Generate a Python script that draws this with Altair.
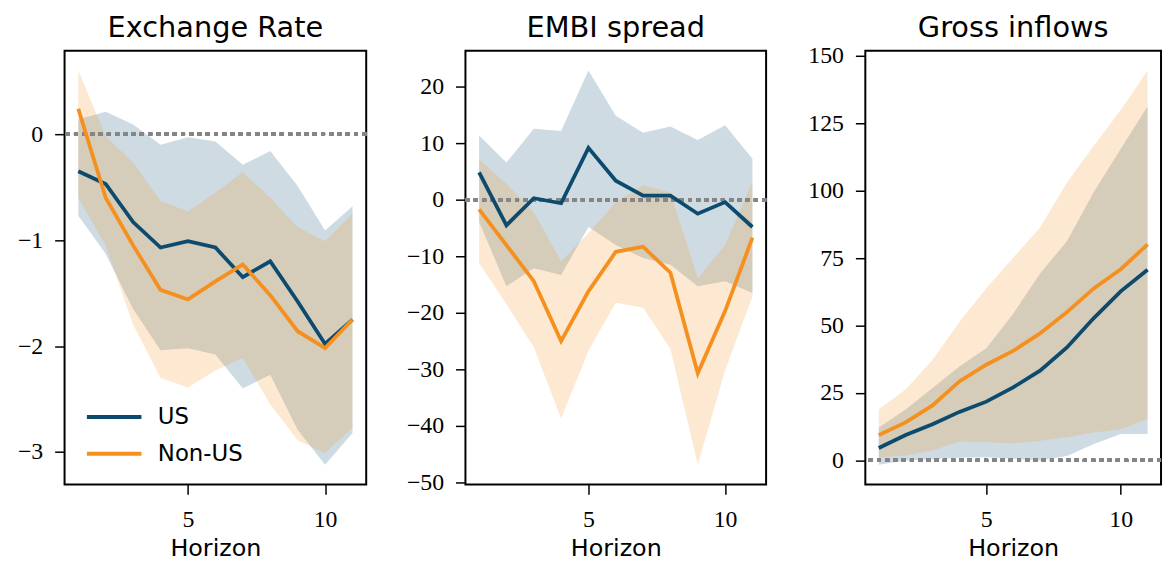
import altair as alt
import pandas as pd

horizon = list(range(1, 12))
series = ["US", "Non-US"]
titles = ["Exchange Rate", "EMBI spread", "Gross inflows"]

# Exchange Rate
er_us = [-0.35, -0.47, -0.83, -1.07, -1.01, -1.07, -1.35, -1.20, -1.58, -1.98, -1.75]
er_us_hi = [0.14, 0.21, 0.09, -0.10, -0.03, -0.07, -0.29, -0.16, -0.49, -0.91, -0.68]
er_us_lo = [-0.77, -1.13, -1.65, -2.04, -2.02, -2.08, -2.40, -2.27, -2.79, -3.12, -2.82]
er_nus = [0.24, -0.60, -1.05, -1.47, -1.56, -1.39, -1.23, -1.52, -1.86, -2.02, -1.75]
er_nus_hi = [0.60, -0.02, -0.27, -0.63, -0.73, -0.55, -0.36, -0.60, -0.88, -1.01, -0.75]
er_nus_lo = [-0.60, -1.05, -1.80, -2.30, -2.39, -2.23, -2.11, -2.55, -2.89, -3.01, -2.77]

# EMBI spread
embi_us = [4.85, -4.5, 0.3, -0.6, 9.2, 3.4, 0.76, 0.76, -2.45, -0.4, -4.8]
embi_us_hi = [11.4, 6.6, 12.6, 12.2, 22.9, 14.9, 11.9, 13.0, 10.6, 13.2, 7.3]
embi_us_lo = [-3.9, -15.3, -12.1, -13.3, -4.8, -8.0, -10.3, -11.5, -15.3, -14.4, -16.5]
embi_nus = [-1.7, -8.0, -14.4, -25.0, -16.2, -9.2, -8.3, -12.9, -30.7, -19.7, -6.7]
embi_nus_hi = [7.2, 2.8, -2.2, -10.9, -5.9, -0.4, 2.6, 1.3, -13.9, -8.0, 3.2]
embi_nus_lo = [-11.2, -18.5, -26.1, -38.7, -26.7, -18.2, -19.1, -26.4, -46.9, -30.2, -17.1]

# Gross inflows
gi_us = [4.6, 9.4, 13.4, 18.0, 21.8, 27.1, 33.3, 41.9, 52.8, 62.7, 70.7]
gi_us_hi = [12.2, 18.9, 26.9, 34.8, 41.6, 54.4, 69.3, 81.3, 99.6, 115.5, 131.4]
gi_us_lo = [-1.6, 0.0, 0.4, 1.0, 1.2, 0.6, 0.0, 1.6, 6.1, 9.8, 9.8]
gi_nus = [9.4, 14.1, 20.4, 29.3, 35.5, 40.6, 47.1, 55.0, 63.8, 70.9, 80.1]
gi_nus_hi = [19.0, 26.3, 37.3, 51.3, 63.9, 75.2, 86.4, 103.1, 116.7, 130.0, 144.6]
gi_nus_lo = [1.2, 1.8, 3.7, 7.0, 6.7, 6.4, 7.3, 8.6, 10.4, 11.6, 15.5]

y_ticks_er = [-3, -2, -1, 0]
y_ticks_embi = [-50, -40, -30, -20, -10, 0, 10, 20]
y_ticks_gi = [0, 25, 50, 75, 100, 125, 150]
x_ticks = [5, 10]

BLUE = "#0c4a6e"
ORANGE = "#f5901e"
PLOT_H = 437


def build_df(us, us_lo, us_hi, nus, nus_lo, nus_hi):
    rows = []
    for s, est, lo, hi in [("US", us, us_lo, us_hi), ("Non-US", nus, nus_lo, nus_hi)]:
        for h, e, l, u in zip(horizon, est, lo, hi):
            rows.append({"h": h, "series": s, "est": e, "lo": l, "hi": u})
    return pd.DataFrame(rows)


def ydomain(df):
    lo = min(df["lo"].min(), df["est"].min())
    hi = max(df["hi"].max(), df["est"].max())
    m = 0.05 * (hi - lo)
    return [lo - m, hi + m]


def make_panel(title, df, ticks, extent, width, legend, toff):
    dom = ydomain(df)
    xenc = alt.X("h:Q", scale=alt.Scale(domain=[0.5, 11.5], nice=False, zero=False),
                 axis=alt.Axis(values=x_ticks, title="Horizon", format="d"))
    yaxis = alt.Axis(values=ticks, title=None, minExtent=extent, maxExtent=extent,
                     format="d", labelExpr="replace(datum.label, '-', '\u2212')")
    yscale = alt.Scale(domain=dom, nice=False, zero=False)

    base = alt.Chart(df)
    band_us = base.transform_filter(alt.datum.series == "US").mark_area(
        color=BLUE, opacity=0.2).encode(
        x=xenc, y=alt.Y("lo:Q", scale=yscale, axis=yaxis), y2="hi:Q")
    band_nus = base.transform_filter(alt.datum.series == "Non-US").mark_area(
        color=ORANGE, opacity=0.2).encode(
        x=xenc, y=alt.Y("lo:Q", scale=yscale, axis=yaxis), y2="hi:Q")
    zero = alt.Chart(df).mark_rule(color="#858585", strokeWidth=3.3, strokeDash=[4, 4.3]).encode(
        y=alt.datum(0))
    if legend:
        leg = alt.Legend(title=None, orient="none", legendX=38.5, legendY=357.5,
                         symbolType="M-5,0H5", symbolSize=121, symbolStrokeWidth=4,
                         labelFont="DejaVu Sans", labelFontSize=23, labelColor="black",
                         labelOffset=32.5, rowPadding=13, padding=0,
                         direction="vertical")
    else:
        leg = None
    lines = base.mark_line(strokeWidth=3.8).encode(
        x=xenc, y=alt.Y("est:Q", scale=yscale, axis=yaxis),
        color=alt.Color("series:N", scale=alt.Scale(domain=series, range=[BLUE, ORANGE]),
                        legend=leg),
        order=alt.Order("h:Q"))
    return alt.layer(band_us, band_nus, zero, lines).properties(
        width=width, height=PLOT_H,
        title=alt.TitleParams(title, font="DejaVu Sans", fontSize=29, fontWeight="normal",
                              color="black", offset=toff, frame="group"))


df_er = build_df(er_us, er_us_lo, er_us_hi, er_nus, er_nus_lo, er_nus_hi)
df_embi = build_df(embi_us, embi_us_lo, embi_us_hi, embi_nus, embi_nus_lo, embi_nus_hi)
df_gi = build_df(gi_us, gi_us_lo, gi_us_hi, gi_nus, gi_nus_lo, gi_nus_hi)

p1 = make_panel(titles[0], df_er, y_ticks_er, 55.5, 304, True, 8)
p2 = make_panel(titles[1], df_embi, y_ticks_embi, 61, 303, False, 8)
p3 = make_panel(titles[2], df_gi, y_ticks_gi, 60.5, 298, False, 1)

chart = alt.hconcat(p1, p2, p3, spacing=100, bounds="flush").resolve_scale(
    x="independent", y="independent", color="independent").resolve_legend(
    color="independent").properties(
    padding={"top": 3, "left": 0, "right": 0, "bottom": 0}).configure_view(
    stroke="black", strokeWidth=2).configure_axis(
    labelFont="Liberation Serif", labelFontSize=24, labelColor="black",
    tickSize=10, tickWidth=1.5, tickColor="black", domain=False, grid=False,
    labelPadding=13, titleFont="DejaVu Sans", titleFontSize=24, titleFontWeight="normal",
    titleColor="black", titlePadding=6).configure_axisY(labelPadding=12)

chart.save("out.html", embed_options={"renderer": "svg", "actions": False})
